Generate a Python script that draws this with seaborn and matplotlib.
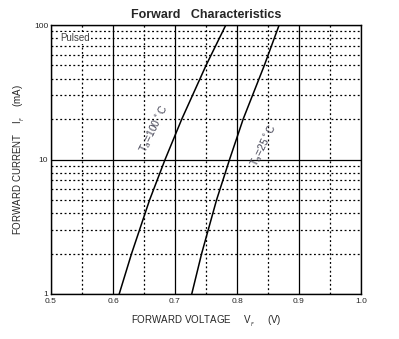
import matplotlib
matplotlib.use("Agg")
import matplotlib.pyplot as plt
import seaborn as sns
import pandas as pd
import numpy as np
from matplotlib.ticker import LogLocator, FixedLocator, NullFormatter

sns.set_style("white")
plt.rcParams['font.family'] = ['Liberation Sans', 'DejaVu Sans']

# Data
i_levels = [1.0, 2.0, 5.0, 10.0, 20.0, 50.0, 100.0]
v_100 = [0.610, 0.630, 0.659, 0.684, 0.711, 0.750, 0.782]
v_25 = [0.727, 0.743, 0.767, 0.788, 0.810, 0.844, 0.868]
x_ticks = [0.5, 0.6, 0.7, 0.8, 0.9, 1.0]
x_tick_labels = ["0.5", "0.6", "0.7", "0.8", "0.9", "1.0"]
y_ticks = [1, 10, 100]
y_tick_labels = ["1", "10", "100"]

df = pd.concat([
    pd.DataFrame({"V": v_100, "I": i_levels, "T": "100"}),
    pd.DataFrame({"V": v_25, "I": i_levels, "T": "25"}),
])

fig = plt.figure(figsize=(3.99, 3.39), dpi=100)
ax = fig.add_axes([51/399, 45/339, 310/399, 269/339])

sns.lineplot(data=df, x="V", y="I", units="T", estimator=None, sort=False,
             color="black", lw=1.1, ax=ax, legend=False)

ax.set_yscale("log")
ax.set_xlim(0.5, 1.0)
ax.set_ylim(1, 100)

ax.set_xticks(x_ticks)
ax.set_xticklabels(x_tick_labels, fontsize=6)
ax.set_yticks(y_ticks)
ax.set_yticklabels(y_tick_labels, fontsize=6)
ax.xaxis.set_minor_locator(FixedLocator([0.55, 0.65, 0.75, 0.85, 0.95]))
ax.yaxis.set_minor_locator(LogLocator(base=10, subs=np.arange(2, 10)))
ax.yaxis.set_minor_formatter(NullFormatter())
ax.tick_params(which="both", length=0, pad=3)
ax.tick_params(axis="y", pad=2)

ax.grid(which="major", color="black", lw=0.9, ls="-")
ax.grid(which="minor", color="black", lw=0.9, ls=(0, (1.5, 2)))
ax.set_axisbelow(True)
for s in ax.spines.values():
    s.set_color("black")
    s.set_linewidth(1.0)

ax.set_xlabel(r"FORWARD VOLTAGE     V$_{_F}$     (V)", fontsize=7, labelpad=6)
ax.set_ylabel(r"FORWARD CURRENT    I$_{_F}$    (mA)", fontsize=7, labelpad=5)
ax.set_title("Forward   Characteristics", fontsize=9, fontweight="bold", pad=5)

ax.text(0.515, 80, "Pulsed", fontsize=7, color="#444444", va="center", ha="left",
        bbox=dict(facecolor="white", edgecolor="none", pad=0.5))
ax.text(0.666, 17, r"T$_a$=100$^\circ$C", fontsize=7.5, color="#444455",
        rotation=64, ha="center", va="center")
ax.text(0.843, 12.8, r"T$_a$=25$^\circ$C", fontsize=7.5, color="#444455",
        rotation=64, ha="center", va="center")

fig.savefig("out.png", dpi=100)
